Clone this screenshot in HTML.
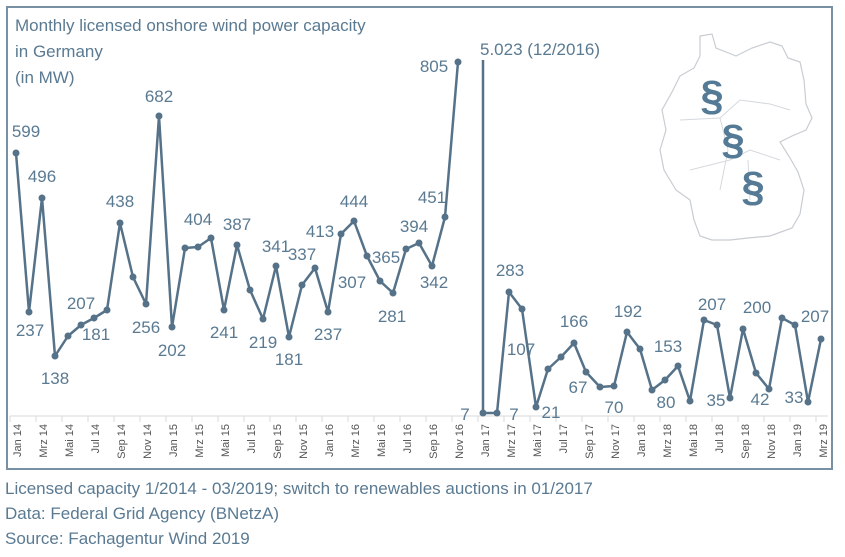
<!DOCTYPE html>
<html><head><meta charset="utf-8"><style>
body{margin:0;background:#fff;width:845px;height:552px;overflow:hidden;font-family:"Liberation Sans",sans-serif}
</style></head><body>
<svg width="845" height="552" viewBox="0 0 845 552" xmlns="http://www.w3.org/2000/svg" font-family="Liberation Sans, sans-serif">
<rect x="7" y="7" width="825" height="462" fill="none" stroke="#7890a4" stroke-width="2"/>
<g fill="#5a7a92" font-size="17">
<text x="15" y="31">Monthly licensed onshore wind power capacity</text>
<text x="15" y="57">in Germany</text>
<text x="15" y="83">(in MW)</text>
</g>
<!-- map -->
<path d="M700,36 L712,34 L716,48 L726,52 L736,56 L752,48 L770,42 L782,46 L788,58 L800,62 L804,80 L806,104 L812,118 L806,130 L792,136 L780,142 L790,158 L798,172 L804,190 L800,214 L792,228 L770,236 L748,238 L730,240 L712,240 L700,236 L694,220 L690,200 L676,190 L664,170 L660,150 L666,130 L662,110 L672,92 L680,76 L694,68 L700,56 Z" fill="none" stroke="#c8cdd2" stroke-width="1.2"/>
<path d="M680,120 L720,118 L740,100 L770,104 L790,110 M690,170 L730,160 L750,150 L780,160 M720,118 L728,150 L720,190 M748,160 L750,200" fill="none" stroke="#d5d9dd" stroke-width="1"/>
<g fill="#557a95" font-size="42" font-weight="bold" text-anchor="middle">
<text x="712" y="110">§</text><text x="733" y="154">§</text><text x="753" y="201">§</text>
</g>
<!-- axis -->
<line x1="10" y1="416" x2="828" y2="416" stroke="#d9d9d9" stroke-width="1"/>
<g stroke="#d9d9d9">
<line x1="10" y1="416" x2="10" y2="422"/><line x1="36" y1="416" x2="36" y2="422"/><line x1="62" y1="416" x2="62" y2="422"/><line x1="88" y1="416" x2="88" y2="422"/><line x1="114" y1="416" x2="114" y2="422"/><line x1="140" y1="416" x2="140" y2="422"/><line x1="166" y1="416" x2="166" y2="422"/><line x1="192" y1="416" x2="192" y2="422"/><line x1="218" y1="416" x2="218" y2="422"/><line x1="244" y1="416" x2="244" y2="422"/><line x1="270" y1="416" x2="270" y2="422"/><line x1="296" y1="416" x2="296" y2="422"/><line x1="322" y1="416" x2="322" y2="422"/><line x1="348" y1="416" x2="348" y2="422"/><line x1="374" y1="416" x2="374" y2="422"/><line x1="400" y1="416" x2="400" y2="422"/><line x1="426" y1="416" x2="426" y2="422"/><line x1="452" y1="416" x2="452" y2="422"/><line x1="478" y1="416" x2="478" y2="422"/><line x1="504" y1="416" x2="504" y2="422"/><line x1="530" y1="416" x2="530" y2="422"/><line x1="556" y1="416" x2="556" y2="422"/><line x1="582" y1="416" x2="582" y2="422"/><line x1="608" y1="416" x2="608" y2="422"/><line x1="634" y1="416" x2="634" y2="422"/><line x1="660" y1="416" x2="660" y2="422"/><line x1="686" y1="416" x2="686" y2="422"/><line x1="712" y1="416" x2="712" y2="422"/><line x1="738" y1="416" x2="738" y2="422"/><line x1="764" y1="416" x2="764" y2="422"/><line x1="790" y1="416" x2="790" y2="422"/><line x1="816" y1="416" x2="816" y2="422"/>
</g>
<g fill="#555" font-size="11" text-anchor="end">
<text transform="translate(21,424) rotate(-90)">Jan 14</text>
<text transform="translate(47,424) rotate(-90)">Mrz 14</text>
<text transform="translate(73,424) rotate(-90)">Mai 14</text>
<text transform="translate(99,424) rotate(-90)">Jul 14</text>
<text transform="translate(125,424) rotate(-90)">Sep 14</text>
<text transform="translate(151,424) rotate(-90)">Nov 14</text>
<text transform="translate(177,424) rotate(-90)">Jan 15</text>
<text transform="translate(203,424) rotate(-90)">Mrz 15</text>
<text transform="translate(229,424) rotate(-90)">Mai 15</text>
<text transform="translate(255,424) rotate(-90)">Jul 15</text>
<text transform="translate(281,424) rotate(-90)">Sep 15</text>
<text transform="translate(307,424) rotate(-90)">Nov 15</text>
<text transform="translate(333,424) rotate(-90)">Jan 16</text>
<text transform="translate(359,424) rotate(-90)">Mrz 16</text>
<text transform="translate(385,424) rotate(-90)">Mai 16</text>
<text transform="translate(411,424) rotate(-90)">Jul 16</text>
<text transform="translate(437,424) rotate(-90)">Sep 16</text>
<text transform="translate(463,424) rotate(-90)">Nov 16</text>
<text transform="translate(489,424) rotate(-90)">Jan 17</text>
<text transform="translate(515,424) rotate(-90)">Mrz 17</text>
<text transform="translate(541,424) rotate(-90)">Mai 17</text>
<text transform="translate(567,424) rotate(-90)">Jul 17</text>
<text transform="translate(593,424) rotate(-90)">Sep 17</text>
<text transform="translate(619,424) rotate(-90)">Nov 17</text>
<text transform="translate(645,424) rotate(-90)">Jan 18</text>
<text transform="translate(671,424) rotate(-90)">Mrz 18</text>
<text transform="translate(697,424) rotate(-90)">Mai 18</text>
<text transform="translate(723,424) rotate(-90)">Jul 18</text>
<text transform="translate(749,424) rotate(-90)">Sep 18</text>
<text transform="translate(775,424) rotate(-90)">Nov 18</text>
<text transform="translate(801,424) rotate(-90)">Jan 19</text>
<text transform="translate(827,424) rotate(-90)">Mrz 19</text>
</g>
<!-- series -->
<g fill="none" stroke="#557289" stroke-width="2.5" stroke-linejoin="round">
<polyline points="16,153 29,312 42,198 55,356 68,336 81,325 94,318 107,310 120,223 133,277 146,304 159,116 172,327 185,248 198,247 211,238 224,310 237,245 250,290 263,319 276,266 289,337 302,285 315,268 328,312 341,234 354,221 367,256 380,281 393,293 406,249 419,243 432,266 445,217 458,62"/>
<polyline points="483,60 483,413 497,413 509,292 522,309 536,407 548,369 561,357 574,343 586,372 600,387 614,386 627,332 640,349 652,390 665,380 678,366 690,401 704,320 717,325 730,398 743,329 756,373 769,389 782,318 795,325 808,402 821,339"/>
</g>
<g fill="#557289">
<circle cx="16" cy="153" r="3.5"/><circle cx="29" cy="312" r="3.5"/><circle cx="42" cy="198" r="3.5"/><circle cx="55" cy="356" r="3.5"/><circle cx="68" cy="336" r="3.5"/><circle cx="81" cy="325" r="3.5"/><circle cx="94" cy="318" r="3.5"/><circle cx="107" cy="310" r="3.5"/><circle cx="120" cy="223" r="3.5"/><circle cx="133" cy="277" r="3.5"/><circle cx="146" cy="304" r="3.5"/><circle cx="159" cy="116" r="3.5"/><circle cx="172" cy="327" r="3.5"/><circle cx="185" cy="248" r="3.5"/><circle cx="198" cy="247" r="3.5"/><circle cx="211" cy="238" r="3.5"/><circle cx="224" cy="310" r="3.5"/><circle cx="237" cy="245" r="3.5"/><circle cx="250" cy="290" r="3.5"/><circle cx="263" cy="319" r="3.5"/><circle cx="276" cy="266" r="3.5"/><circle cx="289" cy="337" r="3.5"/><circle cx="302" cy="285" r="3.5"/><circle cx="315" cy="268" r="3.5"/><circle cx="328" cy="312" r="3.5"/><circle cx="341" cy="234" r="3.5"/><circle cx="354" cy="221" r="3.5"/><circle cx="367" cy="256" r="3.5"/><circle cx="380" cy="281" r="3.5"/><circle cx="393" cy="293" r="3.5"/><circle cx="406" cy="249" r="3.5"/><circle cx="419" cy="243" r="3.5"/><circle cx="432" cy="266" r="3.5"/><circle cx="445" cy="217" r="3.5"/><circle cx="458" cy="62" r="3.5"/>
<circle cx="483" cy="413" r="3.5"/><circle cx="497" cy="413" r="3.5"/><circle cx="509" cy="292" r="3.5"/><circle cx="522" cy="309" r="3.5"/><circle cx="536" cy="407" r="3.5"/><circle cx="548" cy="369" r="3.5"/><circle cx="561" cy="357" r="3.5"/><circle cx="574" cy="343" r="3.5"/><circle cx="586" cy="372" r="3.5"/><circle cx="600" cy="387" r="3.5"/><circle cx="614" cy="386" r="3.5"/><circle cx="627" cy="332" r="3.5"/><circle cx="640" cy="349" r="3.5"/><circle cx="652" cy="390" r="3.5"/><circle cx="665" cy="380" r="3.5"/><circle cx="678" cy="366" r="3.5"/><circle cx="690" cy="401" r="3.5"/><circle cx="704" cy="320" r="3.5"/><circle cx="717" cy="325" r="3.5"/><circle cx="730" cy="398" r="3.5"/><circle cx="743" cy="329" r="3.5"/><circle cx="756" cy="373" r="3.5"/><circle cx="769" cy="389" r="3.5"/><circle cx="782" cy="318" r="3.5"/><circle cx="795" cy="325" r="3.5"/><circle cx="808" cy="402" r="3.5"/><circle cx="821" cy="339" r="3.5"/>
</g>
<g fill="#5a7a92" font-size="17" text-anchor="middle">
<text x="26" y="137">599</text><text x="30" y="336">237</text><text x="42" y="182">496</text><text x="55" y="384">138</text>
<text x="81" y="309">207</text><text x="96" y="340">181</text><text x="120" y="207">438</text><text x="146" y="333">256</text>
<text x="159" y="102">682</text><text x="172" y="356">202</text><text x="198" y="225">404</text><text x="224" y="338">241</text>
<text x="237" y="230">387</text><text x="263" y="348">219</text><text x="276" y="252">341</text><text x="289" y="365">181</text>
<text x="302" y="260">337</text><text x="320" y="237">413</text><text x="328" y="340">237</text><text x="352" y="288">307</text>
<text x="354" y="207">444</text><text x="386" y="263">365</text><text x="392" y="322">281</text><text x="414" y="232">394</text>
<text x="432" y="203">451</text><text x="434" y="72">805</text><text x="434" y="288">342</text><text x="465" y="420">7</text>
<text x="510" y="276">283</text><text x="514" y="420">7</text><text x="521" y="355">107</text><text x="551" y="418">21</text>
<text x="574" y="327">166</text><text x="578" y="393">67</text><text x="628" y="317">192</text><text x="614" y="413">70</text>
<text x="668" y="352">153</text><text x="666" y="408">80</text><text x="712" y="310">207</text><text x="757" y="313">200</text>
<text x="716" y="406">35</text><text x="760" y="405">42</text><text x="794" y="403">33</text><text x="815" y="322">207</text>
<text x="480" y="55" text-anchor="start">5.023 (12/2016)</text>
</g>
<g fill="#5a7a92" font-size="17">
<text x="5" y="494">Licensed capacity 1/2014 - 03/2019; switch to renewables auctions in 01/2017</text>
<text x="5" y="519">Data: Federal Grid Agency (BNetzA)</text>
<text x="5" y="544">Source: Fachagentur Wind 2019</text>
</g>
</svg>
</body></html>
